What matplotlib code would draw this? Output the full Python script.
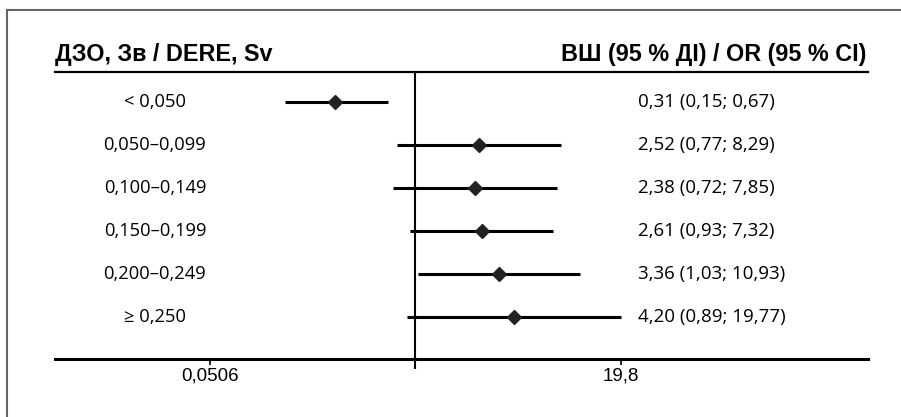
import matplotlib
matplotlib.use("Agg")
import matplotlib.pyplot as plt
from matplotlib.lines import Line2D

# дані
groups = ["< 0,050", "0,050–0,099", "0,100–0,149", "0,150–0,199", "0,200–0,249", "≥ 0,250"]
odds = [0.31, 2.52, 2.38, 2.61, 3.36, 4.20]
ci_low = [0.15, 0.77, 0.72, 0.93, 1.03, 0.89]
ci_high = [0.67, 8.29, 7.85, 7.32, 10.93, 19.77]
tick_vals = [0.0506, 19.8]
tick_labels = ["0,0506", "19,8"]

def fmt(v):
    return f"{v:.2f}".replace(".", ",")

row_font = ["Open Sans", "DejaVu Sans"]
tick_font = ["Liberation Sans Narrow", "Liberation Sans", "DejaVu Sans"]
head_font = ["Liberation Sans", "DejaVu Sans"]

W, H = 901, 417
fig = plt.figure(figsize=(W / 100, H / 100), dpi=100)
ax = fig.add_axes([55 / W, 1 - 359 / H, 813 / W, 287 / H])

ax.set_xscale("log")
ax.set_xlim(0.00532, 716)
ax.set_ylim(5.977, -0.698)

ys = list(range(len(groups)))
for y, o, lo, hi in zip(ys, odds, ci_low, ci_high):
    ax.plot([lo, hi], [y, y], color="black", lw=2.2, solid_capstyle="butt", zorder=2)
ax.plot(odds, ys, "D", color="#222222", markersize=7, zorder=3, linestyle="none")

ax.axvline(1, ymin=-0.03, ymax=1, color="black", lw=1.5, clip_on=False, zorder=1)

for s in ["left", "right"]:
    ax.spines[s].set_visible(False)
ax.spines["top"].set_linewidth(1.6)
ax.spines["bottom"].set_linewidth(2.2)

ax.set_yticks([])
ax.xaxis.set_minor_locator(matplotlib.ticker.NullLocator())
ax.set_xticks(tick_vals)
ax.set_xticklabels(tick_labels, fontfamily=tick_font, fontsize=13.5)
ax.tick_params(axis="x", direction="out", length=4, width=1.2, pad=2)

tr = ax.get_yaxis_transform()
for y, g, o, lo, hi in zip(ys, groups, odds, ci_low, ci_high):
    ax.text(0.123, y, g, transform=tr, ha="center", va="center",
            fontfamily=row_font, fontsize=13.2)
    ax.text(0.717, y, f"{fmt(o)} ({fmt(lo)}; {fmt(hi)})", transform=tr,
            ha="left", va="center", fontfamily=row_font, fontsize=13.5)

fig.text(55 / W, 1 - 55 / H, "ДЗО, Зв / DERE, Sv", ha="left", va="center",
         fontfamily=head_font, fontsize=16.8, fontweight="bold")
fig.text(866 / W, 1 - 55 / H, "ВШ (95 % ДІ) / OR (95 % CI)", ha="right", va="center",
         fontfamily=head_font, fontsize=16.8, fontweight="bold")

# рамка
fig.add_artist(Line2D([7 / W, 7 / W], [0, 1 - 10 / H], color="#666666", lw=1.5))
fig.add_artist(Line2D([7 / W, 1], [1 - 10 / H, 1 - 10 / H], color="#666666", lw=1.5))

fig.savefig("out.png", dpi=100)
